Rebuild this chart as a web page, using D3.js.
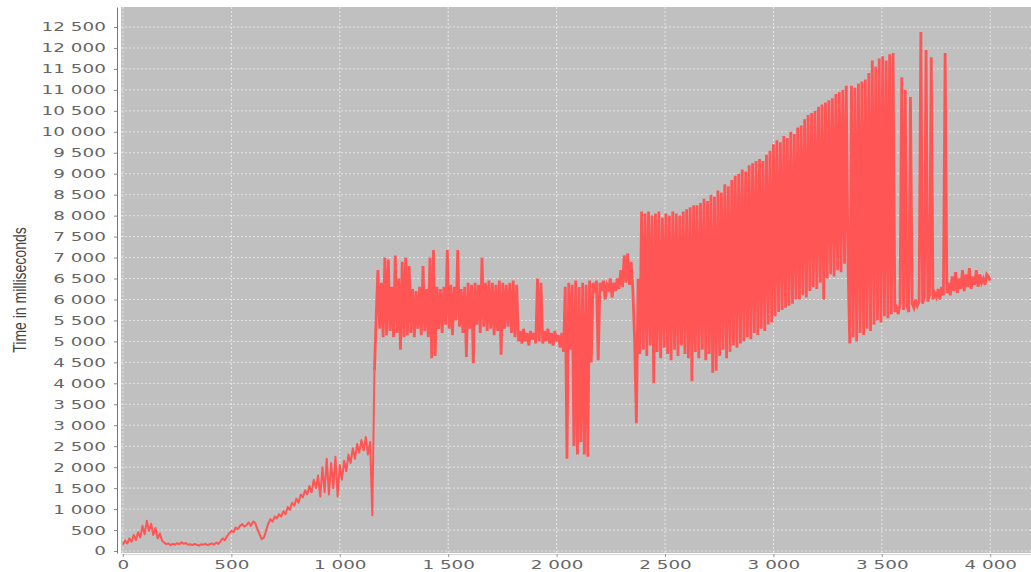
<!DOCTYPE html>
<meta charset="utf-8">
<style>
  body { margin: 0; background: #fff; }
</style>
<body>
<div id="my_dataviz"></div>

<script src="https://d3js.org/d3.v7.min.js"></script>
<script>

// axis ticks
const xTicks = [0, 500, 1000, 1500, 2000, 2500, 3000, 3500, 4000];
const yTicks = [0, 500, 1000, 1500, 2000, 2500, 3000, 3500, 4000, 4500, 5000, 5500, 6000,
  6500, 7000, 7500, 8000, 8500, 9000, 9500, 10000, 10500, 11000, 11500, 12000, 12500];
const yLabel = "Time in milliseconds";

// series, in pieces: first run, spacing between runs, times (ms)
const warmupStart = 0, warmupStep = 10;
const warmupMs = [
  150, 250, 180, 300, 220, 380, 260, 450, 320, 600, 400, 720, 480, 650,
  380, 550, 300, 420, 250, 200, 160, 180, 140, 170, 150, 190, 160,
  210, 170, 190, 150, 160, 140, 170, 150, 130, 160, 150, 170, 140, 160,
  180, 150, 200, 170, 230, 300, 260, 350, 420, 480,
  450, 560, 520, 600, 640, 580, 620, 680, 600, 700, 670, 520,
  400, 280, 320, 480, 650, 760, 700, 820, 780, 880,
  820, 950, 880, 1050, 980, 1150, 1080, 1250, 1150, 1350, 1280, 1450,
  1350, 1550, 1400, 1700, 1500, 1800, 1300, 2000, 1400, 2200, 1350, 2100,
  1500, 2250, 1300, 2050, 1700, 2150, 1900, 2300, 2100, 2450, 2200, 2550,
  2350, 2650, 2400, 2720, 2300, 2600, 850
];

const plateauStart = 1160, plateauStep = 8;
const plateauMs = [
  4300, 5600,
  6700, 5300, 6400, 5100, 7000, 5150, 6950, 5250, 6300, 5100, 7050, 5200, 6500, 4800,
  6900, 5100, 7000, 5150, 6800, 5200, 6250, 5100, 6200, 5300, 6300, 5150, 6800, 5250,
  6250, 5100, 7000, 4600, 7180, 4650, 6300, 5300, 6250, 5200, 6300, 5400, 7180, 5300,
  6350, 5150, 6300, 5500, 7180, 5350, 6250, 5200, 6300, 4630, 6400, 5300, 6350, 4480,
  6400, 5400, 6350, 5200, 7000, 5350, 6400, 5250, 6450, 5300, 6400, 5150, 6350, 5250,
  6450, 4680, 6400, 5300, 6350, 5350, 6400, 5200, 6450, 5100, 6350, 5000,
  5250, 4950, 5300, 5000, 5200, 4900, 5250, 5050, 5200, 4950, 6500, 5000, 6400, 4950,
  5250, 5000, 5300, 4950, 5200, 4900, 5250, 5000, 5150, 4850, 5200, 4750,
  6300, 2200, 6400, 4800, 6350, 2500, 6450, 2300, 6300, 2600, 6400, 2300, 6350, 2250,
  6450, 4500,
  6400, 6150, 6450, 4550, 6400, 6200, 6450, 6000, 6350, 6250, 6500, 6050, 6400, 6200,
  6500, 6250, 6700, 6300, 7050, 6400, 7100, 6350, 6900, 6200, 5000, 3050
];

const growthStart = 2376, growthStep = 8;
const growthMs = [
  6500, 4700, 8100, 4800, 8050, 4650, 8100, 4900, 8000, 4000, 8050, 4750, 8100, 4600,
  7950, 4850, 8050, 4700, 8000, 4550, 8100, 4800, 8050, 4650, 8000, 4900, 8100, 4700,
  8150, 4600, 8200, 4050, 8250, 4750, 8250, 4600, 8300, 4800, 8400, 4550, 8350, 4700,
  8500, 4250, 8450, 4300, 8600, 4650, 8550, 4800, 8750, 4600, 8700, 4750, 8850, 4900,
  8950, 4850, 9000, 4950, 9100, 5000, 9050, 5100, 9200, 5050, 9250, 5200, 9300, 5150,
  9350, 5300, 9300, 5250, 9450, 5400, 9550, 5450, 9700, 5600, 9800, 5700, 9750, 5750,
  9900, 5800, 9850, 5850, 10000, 5900, 9950, 6000, 10100, 6000, 10150, 6100, 10300, 6050,
  10400, 6200, 10450, 6300, 10500, 6250, 10600, 6400, 10650, 6000, 10700, 6500, 10750, 6600,
  10800, 6550, 10900, 6700, 10950, 6650, 11000, 6850, 11100, 6900
];

const tailStart = 3352, tailStep = 8;
const tailMs = [
  4950, 11100, 5100, 11050, 5000, 11150, 5200, 11200, 5150, 11250, 5300, 11400, 5250, 11700,
  5400, 11550, 5500, 11750, 5450, 11800, 5600, 11700, 5550, 11850, 5650, 11880, 5700, 5800,
  5650, 5900, 11300, 5750, 11000, 5850, 5700, 10830, 5900, 5800, 6000, 5850, 5950, 12380,
  5900, 6050, 11950, 5950, 6100, 11780, 6000, 6150, 6050, 6250, 6000, 6300, 6100, 11880,
  6150, 6400, 6100, 6550, 6200, 6650, 6150, 6500, 6250, 6700, 6200, 6600, 6300, 6750,
  6250, 6550, 6350, 6700, 6300, 6600, 6400, 6500, 6350, 6600, 6550, 6450
];

// join the pieces into series of [run, ms]
const toPoints = (start, step, ms) => ms.map((v, i) => [start + i * step, v]);
const warmup = toPoints(warmupStart, warmupStep, warmupMs);
const busy = [
  ...toPoints(plateauStart, plateauStep, plateauMs),
  ...toPoints(growthStart, growthStep, growthMs),
  ...toPoints(tailStart, tailStep, tailMs)
];

// set the dimensions and margins of the graph
const margin = {top: 7, right: 0, bottom: 19, left: 121},
    width = 1031 - margin.left - margin.right,
    height = 572 - margin.top - margin.bottom;

const svg = d3.select("#my_dataviz")
  .append("svg")
    .attr("width", width + margin.left + margin.right)
    .attr("height", height + margin.top + margin.bottom)
  .append("g")
    .attr("transform", `translate(${margin.left}, ${margin.top})`);

const x = d3.scaleLinear().domain([-9, 4188]).range([0, width]);
const y = d3.scaleLinear().domain([-48, 12977]).range([height, 0]);

// "12 500" style numbers
const fmt = d3.formatLocale({decimal: ",", thousands: " ", grouping: [3], currency: ["", ""]}).format(",d");

// plot background
svg.append("rect")
  .attr("width", width)
  .attr("height", height)
  .attr("fill", "#c0c0c0");

// grid lines
svg.append("g")
  .selectAll("line")
  .data(xTicks)
  .join("line")
    .attr("x1", d => x(d)).attr("x2", d => x(d))
    .attr("y1", 0).attr("y2", height)
    .attr("stroke", "#f2f2f2").attr("stroke-width", 1)
    .attr("stroke-dasharray", "2,2").attr("opacity", 0.8);

svg.append("g")
  .selectAll("line")
  .data(yTicks)
  .join("line")
    .attr("x1", 0).attr("x2", width)
    .attr("y1", d => y(d)).attr("y2", d => y(d))
    .attr("stroke", "#f2f2f2").attr("stroke-width", 1)
    .attr("stroke-dasharray", "2,2").attr("opacity", 0.7);

// the series
svg.append("defs").append("clipPath").attr("id", "clip")
  .append("rect").attr("width", width).attr("height", height);

const line = d3.line().x(d => x(d[0])).y(d => y(d[1]));

// slow start, thinner line; joined to the first busy point
svg.append("path")
  .datum([...warmup, busy[0]])
  .attr("clip-path", "url(#clip)")
  .attr("fill", "none")
  .attr("stroke", "#ff5555")
  .attr("stroke-width", 2)
  .attr("stroke-linejoin", "round")
  .attr("d", line);

// the busy part, runs so close the line almost fills
svg.append("path")
  .datum(busy)
  .attr("clip-path", "url(#clip)")
  .attr("fill", "none")
  .attr("stroke", "#ff5555")
  .attr("stroke-width", 2.8)
  .attr("stroke-linejoin", "miter")
  .attr("d", line);

// Y axis
const yAxisSvg = svg.append("g")
  .attr("transform", "translate(-4,0)")
  .call(d3.axisLeft(y).tickValues(yTicks).tickFormat(fmt).tickSize(3).tickSizeOuter(0));
yAxisSvg.select(".domain").attr("stroke", "#777");
yAxisSvg.selectAll(".tick line").attr("stroke", "#888");
yAxisSvg.selectAll(".tick text")
  .attr("x", -7.6)
  .attr("transform", "scale(1.47,1)")
  .attr("fill", "#666")
  .style("font", "12.5px 'DejaVu Sans'");

// X axis
const xAxisSvg = svg.append("g")
  .attr("transform", `translate(0, ${height + 1})`)
  .call(d3.axisBottom(x).tickValues(xTicks).tickFormat(fmt).tickSize(3).tickSizeOuter(0));
xAxisSvg.select(".domain").attr("stroke", "#d8d8d8");
xAxisSvg.selectAll(".tick line").attr("stroke", "#999");
xAxisSvg.selectAll(".tick text")
  .attr("transform", "scale(1.47,1)")
  .attr("fill", "#666")
  .style("font", "12.5px 'DejaVu Sans'");

// Y label
svg.append("text")
  .attr("transform", `translate(${20 - margin.left}, ${290 - margin.top}) scale(1.25,1) rotate(-90)`)
  .attr("text-anchor", "middle")
  .attr("dy", "0.35em")
  .attr("fill", "#444")
  .style("font", "14px 'Liberation Sans'")
  .text(yLabel);

</script>
</body>
